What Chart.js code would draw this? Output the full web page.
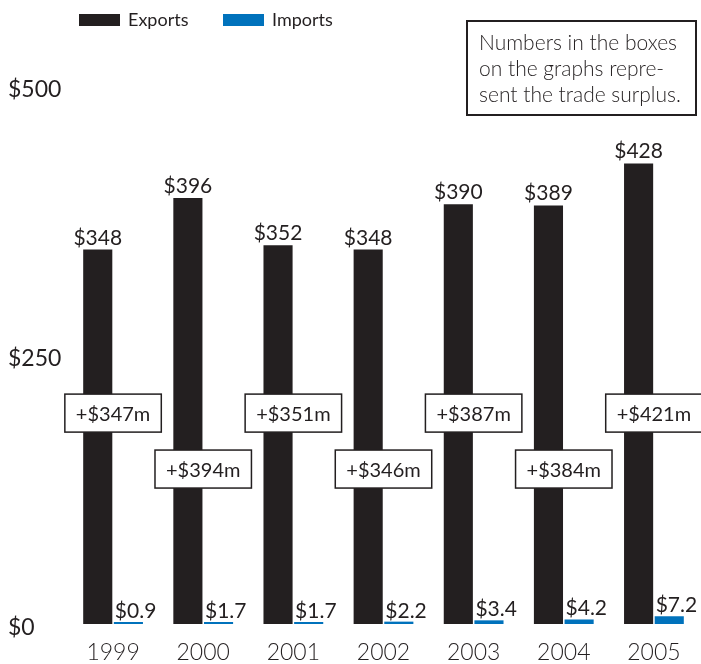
<!DOCTYPE html>
<html>
<head>
<meta charset="utf-8">
<script src="https://cdn.jsdelivr.net/npm/chart.js@4"></script>
<style>
  html, body { margin: 0; padding: 0; background: #fff; }
  #wrap { width: 701px; height: 664px; position: relative; }
</style>
</head>
<body>
<div id="wrap"><canvas id="chart" width="701" height="664"></canvas></div>
<script>
// Data
const years = ['1999', '2000', '2001', '2002', '2003', '2004', '2005'];
const exportsVals = [348, 396, 352, 348, 390, 389, 428];
const importsVals = [0.9, 1.7, 1.7, 2.2, 3.4, 4.2, 7.2];
const surplus = [347, 394, 351, 346, 387, 384, 421];
const yTicks = [0, 250, 500];

const ink = '#231f20';
const blue = '#0072bc';
const fam = 'Lato, "Noto Sans", sans-serif';

// labels, surplus boxes, legend and note box
const annotate = {
    id: 'annotate',
    afterDatasetsDraw(chart) {
        const ctx = chart.ctx;
        const x = chart.scales.x;
        const y = chart.scales.y;
        const expMeta = chart.getDatasetMeta(0);
        const impMeta = chart.getDatasetMeta(1);
        ctx.save();
        ctx.fillStyle = ink;

        // export values on top of bars
        ctx.font = '21px ' + fam;
        ctx.textAlign = 'center';
        ctx.textBaseline = 'alphabetic';
        expMeta.data.forEach((bar, i) => {
            ctx.fillText('$' + exportsVals[i], bar.x, bar.y - 5);
        });

        // import values, left aligned on the bar
        ctx.textAlign = 'left';
        impMeta.data.forEach((bar, i) => {
            const left = bar.x - bar.width / 2;
            ctx.fillText('$' + importsVals[i].toFixed(1), left + 1, Math.min(bar.y, y.getPixelForValue(0) - 2) - 4);
        });

        // surplus boxes, alternating height
        ctx.font = '20px ' + fam;
        ctx.textAlign = 'center';
        ctx.textBaseline = 'middle';
        surplus.forEach((s, i) => {
            const cx = x.getPixelForValue(i);
            const cy = y.getPixelForValue(i % 2 === 0 ? 196 : 144);
            const txt = '+$' + s + 'm';
            const w = ctx.measureText(txt).width + 22;
            const h = 38;
            ctx.fillStyle = '#fff';
            ctx.fillRect(cx - w / 2, cy - h / 2, w, h);
            ctx.strokeStyle = ink;
            ctx.lineWidth = 1.5;
            ctx.strokeRect(cx - w / 2, cy - h / 2, w, h);
            ctx.fillStyle = ink;
            ctx.fillText(txt, cx, cy + 1);
        });

        // legend
        ctx.font = '18px ' + fam;
        ctx.textAlign = 'left';
        ctx.textBaseline = 'middle';
        const legend = [[79, 'Exports', ink], [223, 'Imports', blue]];
        legend.forEach(([lx, name, col]) => {
            ctx.fillStyle = col;
            ctx.fillRect(lx, 14, 41, 12);
            ctx.fillStyle = ink;
            ctx.fillText(name, lx + 49, 20);
        });

        // note box
        ctx.strokeStyle = ink;
        ctx.lineWidth = 2;
        ctx.strokeRect(467, 21, 229, 94);
        ctx.font = '300 21px ' + fam;
        ['Numbers in the boxes', 'on the graphs repre-', 'sent the trade surplus.'].forEach((line, i) => {
            ctx.fillText(line, 479, 43 + i * 26);
        });
        ctx.restore();
    }
};

new Chart(document.getElementById('chart'), {
    type: 'bar',
    data: {
        labels: years,
        datasets: [
            { label: 'Exports', data: exportsVals, backgroundColor: ink },
            { label: 'Imports', data: importsVals, backgroundColor: blue, minBarLength: 2 }
        ]
    },
    options: {
        responsive: false,
        animation: false,
        categoryPercentage: 0.68,
        barPercentage: 0.95,
        layout: { padding: { top: 86, left: 8, right: 2, bottom: 0 } },
        plugins: {
            legend: { display: false },
            tooltip: { enabled: false }
        },
        scales: {
            x: {
                grid: { display: false, drawTicks: false },
                border: { display: false },
                ticks: { color: ink, font: { family: fam, size: 23, weight: 300 }, padding: 15 },
                afterFit(scale) { scale.height = 40; }
            },
            y: {
                min: 0,
                max: 500,
                grid: { display: false, drawTicks: false },
                border: { display: false },
                afterBuildTicks(scale) { scale.ticks = yTicks.map(v => ({ value: v })); },
                ticks: {
                    color: ink,
                    crossAlign: 'far',
                    labelOffset: 4,
                    font: { family: fam, size: 23 },
                    callback: v => '$' + v
                },
                afterFit(scale) { scale.width = 60; }
            }
        }
    },
    plugins: [annotate]
});
</script>
</body>
</html>
